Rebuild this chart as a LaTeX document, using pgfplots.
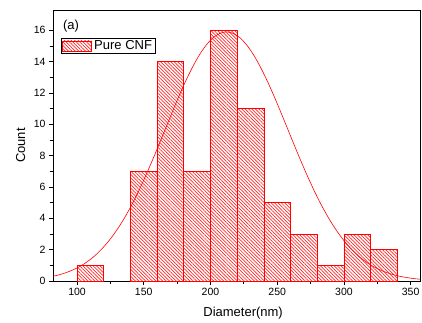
\documentclass[border=0pt]{standalone}
\usepackage{pgfplots}
\pgfplotsset{compat=1.18}
\usepackage{fontspec}
\setmainfont{Liberation Sans}
\usetikzlibrary{patterns.meta}
\begin{document}
\begin{tikzpicture}
\useasboundingbox (-53pt,-41pt) rectangle (369pt,281pt);
\begin{axis}[
  at={(0pt,0pt)}, anchor=south west,
  scale only axis, width=367pt, height=271pt,
  xmin=82, xmax=357, ymin=0, ymax=17.3,
  xtick={100,150,...,350}, minor xtick={125,175,...,325},
  ytick={0,2,...,16}, minor ytick={1,3,...,15},
  tick align=outside, tick pos=left,
  major tick length=4pt, minor tick length=2.5pt,
  every tick/.style={black, line width=0.8pt},
  axis line style={line width=0.9pt},
  /pgf/number format/assume math mode=true,
  ticklabel style={font=\fontsize{10.5}{12}\selectfont},
  xlabel={Diameter(nm)}, ylabel={Count},
  label style={font=\fontsize{13}{14}\selectfont},
  xlabel style={at={(axis description cs:0.518,-0.118)}, anchor=center},
  ylabel style={at={(axis description cs:-0.088,0.5)}, anchor=center},
  legend style={at={(rel axis cs:0.023,0.897)}, anchor=north west, draw=black,
    inner sep=0.5pt, font=\fontsize{13}{13}\selectfont, row sep=0pt,
    nodes={inner xsep=2.5pt}},
  legend cell align=left,
  legend image code/.code={\draw[#1] (0pt,-5pt) rectangle (29pt,5pt);},
]
\addplot[ybar, bar width=20, bar shift=0pt, draw=red, line width=0.6pt,
  pattern={Lines[angle=-45,distance=2.4pt,line width=0.7pt]}, pattern color=red!85]
  coordinates {(110,1) (150,7) (170,14) (190,7) (210,16) (230,11) (250,5) (270,3) (290,1) (310,3) (330,2)};
\addlegendentry{Pure CNF}
\addplot[red, smooth, no marks, line width=0.6pt, forget plot] coordinates {
(82,0.30) (87,0.405) (92,0.54) (97,0.711) (102,0.926) (107,1.192) (112,1.516) (117,1.908)
(122,2.371) (127,2.913) (132,3.535) (137,4.240) (142,5.028) (147,5.893) (152,6.824) (157,7.812)
(162,8.837) (167,9.880) (172,10.918) (177,11.923) (182,12.870) (187,13.728) (192,14.474) (197,15.081)
(202,15.531) (207,15.807) (212,15.9) (217,15.807) (222,15.531) (227,15.081) (232,14.474) (237,13.728)
(242,12.870) (247,11.923) (252,10.918) (257,9.880) (262,8.837) (267,7.812) (272,6.824) (277,5.893)
(282,5.028) (287,4.240) (292,3.535) (297,2.913) (302,2.371) (307,1.908) (312,1.516) (317,1.192)
(322,0.926) (327,0.711) (332,0.54) (337,0.405) (342,0.30) (347,0.22) (352,0.159) (357,0.114)};
\node[anchor=north west, font=\fontsize{13}{14}\selectfont, inner sep=0pt] at (rel axis cs:0.027,0.965) {(a)};
\end{axis}
\end{tikzpicture}
\end{document}
